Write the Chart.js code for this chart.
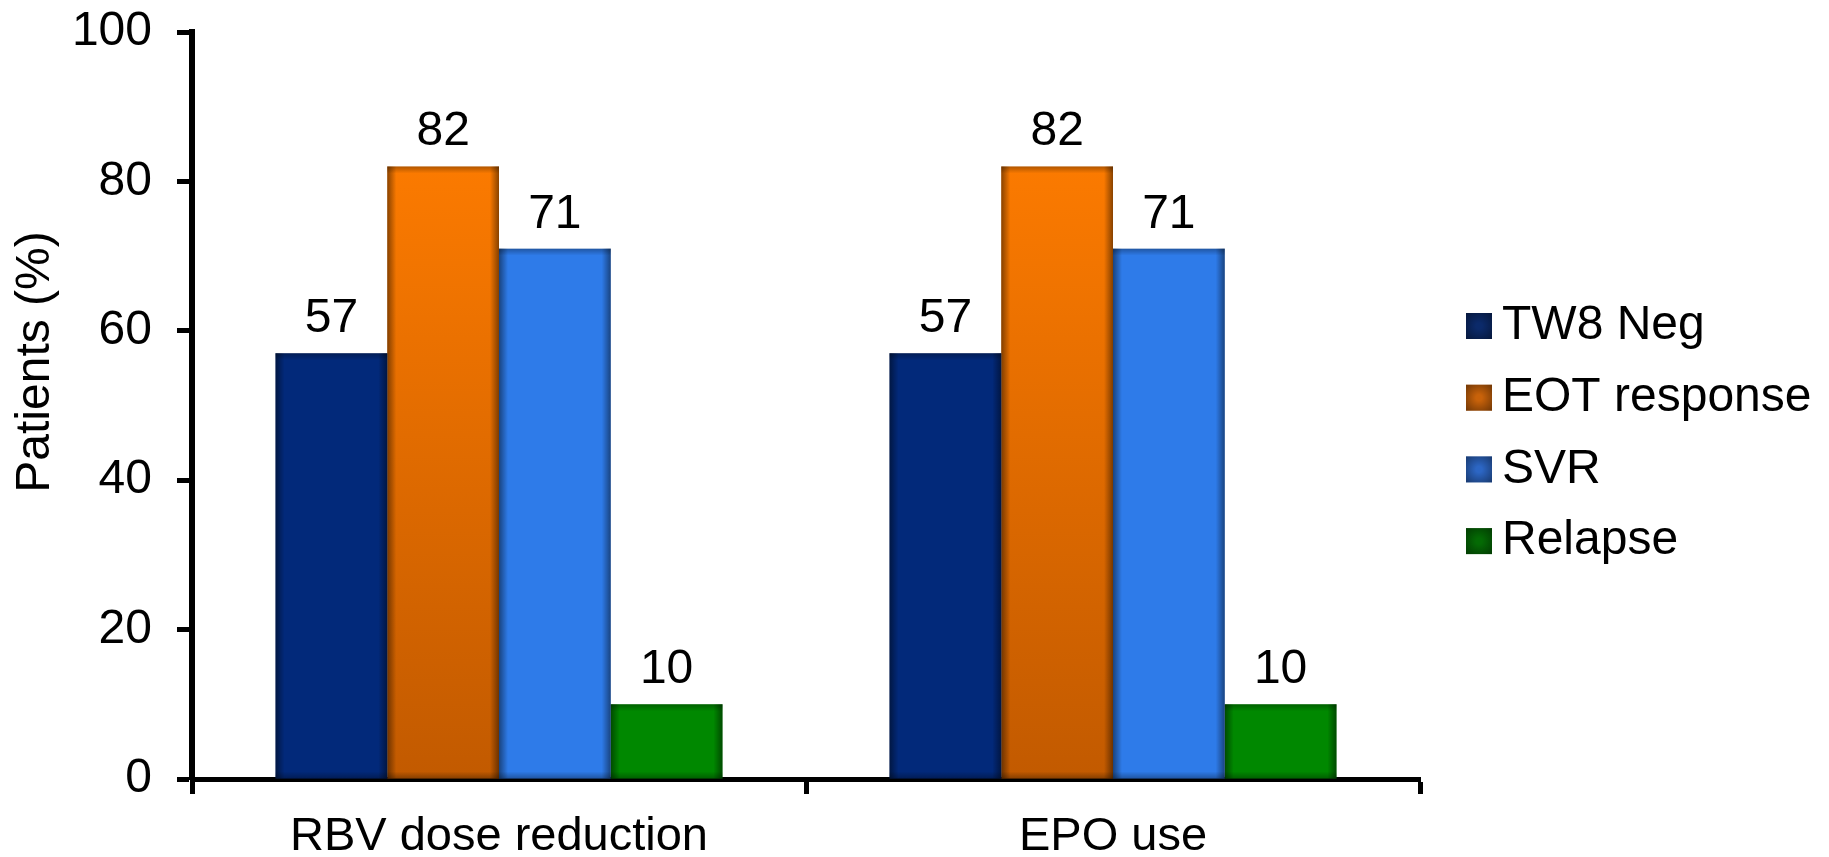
<!DOCTYPE html>
<html>
<head>
<meta charset="utf-8">
<title>Patients (%)</title>
<script src="https://cdn.jsdelivr.net/npm/chart.js@4.4.1/dist/chart.umd.min.js"></script>
<style>
  html, body { margin: 0; padding: 0; background: #ffffff; }
  canvas { display: block; }
</style>
</head>
<body>
<canvas id="chart" width="1829" height="857"></canvas>
<script>
// ---- data ----
const categories = ['RBV dose reduction', 'EPO use'];
const seriesNames = ['TW8 Neg', 'EOT response', 'SVR', 'Relapse'];
const tw8Neg = [57, 57];
const eotResponse = [82, 82];
const svr = [71, 71];
const relapse = [10, 10];
const yTickValues = [0, 20, 40, 60, 80, 100];
const yAxisTitle = 'Patients (%)';

// ---- styling ----
const FONT = "'Liberation Sans', Arial, Helvetica, sans-serif";
const seriesValues = [tw8Neg, eotResponse, svr, relapse];
const flatFills = ['#02297a', null, '#2e7be9', '#008800'];
const legendFills = ['#0b2a6a', '#c8620a', '#2c66c4', '#046a04'];

// orange bars fade from bright at the top to burnt orange at the base
function eotFill(context) {
  const chart = context.chart;
  const y = chart.scales.y;
  if (!chart.chartArea || !y) return '#e06a00';
  const g = chart.ctx.createLinearGradient(
    0, y.getPixelForValue(Math.max(...eotResponse)), 0, y.getPixelForValue(0));
  g.addColorStop(0, '#fb7a00');
  g.addColorStop(1, '#c25a00');
  return g;
}

// soft dark rim on every bar
const barShade = {
  id: 'barShade',
  afterDatasetsDraw(chart) {
    const ctx = chart.ctx;
    ctx.save();
    chart.data.datasets.forEach((ds, di) => {
      chart.getDatasetMeta(di).data.forEach(bar => {
        const p = bar.getProps(['x', 'y', 'base', 'width'], true);
        const left = p.x - p.width / 2, right = p.x + p.width / 2;
        const top = Math.min(p.y, p.base), bottom = Math.max(p.y, p.base);
        const h = bottom - top, edge = 9, vEdge = 7;
        let g = ctx.createLinearGradient(left, 0, left + edge, 0);
        g.addColorStop(0, 'rgba(0,0,0,0.45)');
        g.addColorStop(1, 'rgba(0,0,0,0)');
        ctx.fillStyle = g; ctx.fillRect(left, top, edge, h);
        g = ctx.createLinearGradient(right, 0, right - edge, 0);
        g.addColorStop(0, 'rgba(0,0,0,0.45)');
        g.addColorStop(1, 'rgba(0,0,0,0)');
        ctx.fillStyle = g; ctx.fillRect(right - edge, top, edge, h);
        g = ctx.createLinearGradient(0, top, 0, top + vEdge);
        g.addColorStop(0, 'rgba(0,0,0,0.3)');
        g.addColorStop(1, 'rgba(0,0,0,0)');
        ctx.fillStyle = g; ctx.fillRect(left, top, p.width, vEdge);
        g = ctx.createLinearGradient(0, bottom, 0, bottom - vEdge);
        g.addColorStop(0, 'rgba(0,0,0,0.3)');
        g.addColorStop(1, 'rgba(0,0,0,0)');
        ctx.fillStyle = g; ctx.fillRect(left, bottom - vEdge, p.width, vEdge);
      });
    });
    ctx.restore();
  }
};

// value above each bar
const valueLabels = {
  id: 'valueLabels',
  afterDatasetsDraw(chart) {
    const ctx = chart.ctx;
    ctx.save();
    ctx.font = '48px ' + FONT;
    ctx.fillStyle = '#000';
    ctx.textAlign = 'center';
    ctx.textBaseline = 'alphabetic';
    chart.data.datasets.forEach((ds, di) => {
      chart.getDatasetMeta(di).data.forEach((bar, i) => {
        ctx.fillText(String(ds.data[i]), bar.x, bar.y - 21);
      });
    });
    ctx.restore();
  }
};

// rotated y-axis title
const yTitle = {
  id: 'yTitle',
  afterDraw(chart) {
    const ctx = chart.ctx;
    ctx.save();
    ctx.translate(36, 362);
    ctx.rotate(-Math.PI / 2);
    ctx.font = '48px ' + FONT;
    ctx.fillStyle = '#000';
    ctx.textAlign = 'center';
    ctx.textBaseline = 'middle';
    ctx.fillText(yAxisTitle, 0, 0);
    ctx.restore();
  }
};

// legend column at the right
const sideLegend = {
  id: 'sideLegend',
  afterDraw(chart) {
    const ctx = chart.ctx;
    const boxX = 1466, box = 26, textX = 1502, firstRow = 326, pitch = 71.7;
    ctx.save();
    ctx.font = '48px ' + FONT;
    ctx.textAlign = 'left';
    ctx.textBaseline = 'middle';
    chart.data.datasets.forEach((ds, i) => {
      const cy = firstRow + i * pitch;
      const top = cy - box / 2;
      ctx.fillStyle = legendFills[i];
      ctx.fillRect(boxX, top, box, box);
      const g = ctx.createRadialGradient(boxX + box / 2, cy, 3, boxX + box / 2, cy, box * 0.72);
      g.addColorStop(0, 'rgba(0,0,0,0)');
      g.addColorStop(1, 'rgba(0,0,0,0.45)');
      ctx.fillStyle = g;
      ctx.fillRect(boxX, top, box, box);
      ctx.fillStyle = '#000';
      ctx.fillText(ds.label, textX, cy);
    });
    ctx.restore();
  }
};

new Chart(document.getElementById('chart'), {
  type: 'bar',
  data: {
    labels: categories,
    datasets: seriesNames.map((name, i) => ({
      label: name,
      data: seriesValues[i],
      backgroundColor: i === 1 ? eotFill : flatFills[i],
      borderWidth: 0,
      categoryPercentage: 0.728,
      barPercentage: 1
    }))
  },
  options: {
    responsive: false,
    animation: false,
    devicePixelRatio: 1,
    layout: { padding: { left: 0, right: 409, top: 0, bottom: 0 } },
    plugins: { legend: { display: false }, tooltip: { enabled: false } },
    scales: {
      x: {
        z: 1,
        grid: {
          display: true, drawOnChartArea: false, drawTicks: true,
          tickLength: 15, tickWidth: 5, tickColor: '#000', offset: true
        },
        border: { display: true, color: '#000', width: 5 },
        ticks: {
          color: '#000', font: { family: FONT, size: 47 },
          padding: 15, maxRotation: 0, autoSkip: false
        },
        afterFit(scale) { scale.height = 78; }
      },
      y: {
        z: 1,
        min: 0,
        max: 100,
        afterBuildTicks(scale) { scale.ticks = yTickValues.map(v => ({ value: v })); },
        grid: {
          display: true, drawOnChartArea: false, drawTicks: true,
          tickLength: 15, tickWidth: 5, tickColor: '#000'
        },
        border: { display: true, color: '#000', width: 6 },
        ticks: { color: '#000', font: { family: FONT, size: 48 }, padding: 25 },
        afterFit(scale) { scale.width = 192; scale.paddingTop = 32; }
      }
    }
  },
  plugins: [barShade, valueLabels, yTitle, sideLegend]
});
</script>
</body>
</html>
